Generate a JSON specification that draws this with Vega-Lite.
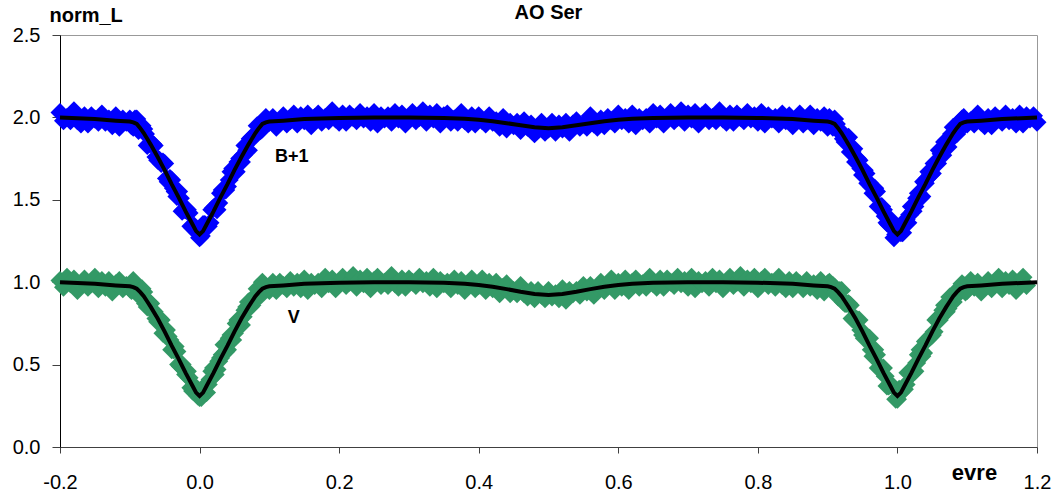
{
"$schema": "https://vega.github.io/schema/vega-lite/v6.json",
"width": 977, "height": 412,
"autosize": {"type": "none"},
"padding": {"left": 60, "top": 35, "right": 27, "bottom": 55},
"background": "white",
"config": {"view": {"stroke": "#999999", "strokeWidth": 1}, "font": "Liberation Sans"},
"title": {"text": "AO Ser", "fontSize": 20, "fontWeight": "bold", "font": "Liberation Sans", "anchor": "middle", "color": "black", "offset": 8, "dy": 26},
"datasets": {
"obs": [
{"p":-0.2,"V":1.01,"B":2.03},{"p":-0.195,"V":0.97,"B":1.98},{"p":-0.19,"V":1.03,"B":2.00},{"p":-0.185,"V":0.99,"B":1.98},{"p":-0.18,"V":1.02,"B":2.04},
{"p":-0.175,"V":0.95,"B":1.98},{"p":-0.17,"V":0.99,"B":1.96},{"p":-0.165,"V":1.02,"B":2.01},{"p":-0.16,"V":0.97,"B":1.96},{"p":-0.155,"V":0.99,"B":2.01},
{"p":-0.15,"V":1.03,"B":1.99},{"p":-0.145,"V":0.96,"B":1.97},{"p":-0.14,"V":1.01,"B":2.02},{"p":-0.135,"V":0.97,"B":1.97},{"p":-0.13,"V":1.01,"B":1.99},
{"p":-0.125,"V":0.94,"B":1.95},{"p":-0.12,"V":0.99,"B":2.01},{"p":-0.115,"V":1.01,"B":1.94},{"p":-0.11,"V":0.96,"B":1.99},{"p":-0.105,"V":0.98,"B":1.97},
{"p":-0.1,"V":0.96,"B":1.99},{"p":-0.095,"V":1.01,"B":1.94},{"p":-0.09,"V":0.95,"B":1.99},{"p":-0.085,"V":0.91,"B":1.93},{"p":-0.08,"V":0.94,"B":1.93},
{"p":-0.075,"V":0.85,"B":1.83},{"p":-0.07,"V":0.87,"B":1.84},{"p":-0.065,"V":0.82,"B":1.83},{"p":-0.06,"V":0.76,"B":1.74},{"p":-0.055,"V":0.77,"B":1.72},
{"p":-0.05,"V":0.69,"B":1.72},{"p":-0.045,"V":0.67,"B":1.61},{"p":-0.04,"V":0.59,"B":1.62},{"p":-0.035,"V":0.61,"B":1.55},{"p":-0.03,"V":0.50,"B":1.55},
{"p":-0.025,"V":0.50,"B":1.43},{"p":-0.02,"V":0.44,"B":1.44},{"p":-0.015,"V":0.42,"B":1.42},{"p":-0.01,"V":0.34,"B":1.33},{"p":-0.005,"V":0.36,"B":1.31},
{"p":0,"V":0.30,"B":1.27},{"p":0.005,"V":0.35,"B":1.35},{"p":0.01,"V":0.33,"B":1.34},{"p":0.015,"V":0.41,"B":1.36},{"p":0.02,"V":0.48,"B":1.45},
{"p":0.025,"V":0.47,"B":1.44},{"p":0.03,"V":0.54,"B":1.54},{"p":0.035,"V":0.62,"B":1.56},{"p":0.04,"V":0.59,"B":1.58},{"p":0.045,"V":0.68,"B":1.67},
{"p":0.05,"V":0.69,"B":1.67},{"p":0.055,"V":0.77,"B":1.73},{"p":0.06,"V":0.74,"B":1.73},{"p":0.065,"V":0.83,"B":1.83},{"p":0.07,"V":0.88,"B":1.80},
{"p":0.075,"V":0.86,"B":1.88},{"p":0.08,"V":0.92,"B":1.90},{"p":0.085,"V":0.92,"B":1.95},{"p":0.09,"V":1.00,"B":1.93},{"p":0.095,"V":0.96,"B":2.00},
{"p":0.1,"V":0.95,"B":1.97},{"p":0.105,"V":1.00,"B":2.00},{"p":0.11,"V":0.95,"B":1.94},{"p":0.115,"V":1.00,"B":1.98},{"p":0.12,"V":0.98,"B":2.01},
{"p":0.125,"V":0.96,"B":1.96},{"p":0.13,"V":1.01,"B":1.98},{"p":0.135,"V":0.97,"B":2.02},{"p":0.14,"V":1.00,"B":1.96},{"p":0.145,"V":0.96,"B":2.01},
{"p":0.15,"V":1.02,"B":1.98},{"p":0.155,"V":0.95,"B":2.02},{"p":0.16,"V":1.00,"B":1.95},{"p":0.165,"V":0.98,"B":2.00},{"p":0.17,"V":1.00,"B":2.02},
{"p":0.175,"V":0.96,"B":1.97},{"p":0.18,"V":1.03,"B":2.00},{"p":0.185,"V":0.99,"B":1.98},{"p":0.19,"V":1.02,"B":2.04},{"p":0.195,"V":0.96,"B":1.99},
{"p":0.2,"V":1.00,"B":1.97},{"p":0.205,"V":1.03,"B":2.02},{"p":0.21,"V":0.98,"B":1.97},{"p":0.215,"V":1.00,"B":2.02},{"p":0.22,"V":1.04,"B":2.00},
{"p":0.225,"V":0.97,"B":1.98},{"p":0.23,"V":1.02,"B":2.03},{"p":0.235,"V":0.99,"B":1.99},{"p":0.24,"V":1.03,"B":2.01},{"p":0.245,"V":0.96,"B":1.97},
{"p":0.25,"V":1.01,"B":2.03},{"p":0.255,"V":1.03,"B":1.96},{"p":0.26,"V":0.98,"B":2.01},{"p":0.265,"V":1.00,"B":1.99},{"p":0.27,"V":0.98,"B":2.01},
{"p":0.275,"V":1.04,"B":1.97},{"p":0.28,"V":0.99,"B":2.03},{"p":0.285,"V":0.97,"B":1.99},{"p":0.29,"V":1.02,"B":2.02},{"p":0.295,"V":0.97,"B":1.96},
{"p":0.3,"V":1.02,"B":2.00},{"p":0.305,"V":1.00,"B":2.03},{"p":0.31,"V":0.98,"B":1.98},{"p":0.315,"V":1.03,"B":2.00},{"p":0.32,"V":0.99,"B":2.04},
{"p":0.325,"V":1.01,"B":1.97},{"p":0.33,"V":0.97,"B":2.02},{"p":0.335,"V":1.03,"B":1.99},{"p":0.34,"V":0.96,"B":2.03},{"p":0.345,"V":1.01,"B":1.96},
{"p":0.35,"V":0.99,"B":2.01},{"p":0.355,"V":1.00,"B":2.02},{"p":0.36,"V":0.96,"B":1.97},{"p":0.365,"V":1.02,"B":1.99},{"p":0.37,"V":0.98,"B":1.97},
{"p":0.375,"V":1.01,"B":2.03},{"p":0.38,"V":0.95,"B":1.98},{"p":0.385,"V":0.99,"B":1.96},{"p":0.39,"V":1.02,"B":2.01},{"p":0.395,"V":0.96,"B":1.96},
{"p":0.4,"V":0.98,"B":2.01},{"p":0.405,"V":1.02,"B":1.98},{"p":0.41,"V":0.95,"B":1.96},{"p":0.415,"V":1.00,"B":2.01},{"p":0.42,"V":0.96,"B":1.97},
{"p":0.425,"V":1.00,"B":1.98},{"p":0.43,"V":0.93,"B":1.94},{"p":0.435,"V":0.97,"B":2.00},{"p":0.44,"V":0.99,"B":1.93},{"p":0.445,"V":0.93,"B":1.97},
{"p":0.45,"V":0.95,"B":1.95},{"p":0.455,"V":0.93,"B":1.97},{"p":0.46,"V":0.98,"B":1.92},{"p":0.465,"V":0.93,"B":1.98},{"p":0.47,"V":0.91,"B":1.94},
{"p":0.475,"V":0.95,"B":1.96},{"p":0.48,"V":0.90,"B":1.90},{"p":0.485,"V":0.95,"B":1.94},{"p":0.49,"V":0.92,"B":1.97},{"p":0.495,"V":0.90,"B":1.91},
{"p":0.5,"V":0.95,"B":1.93},{"p":0.505,"V":0.91,"B":1.97},{"p":0.51,"V":0.93,"B":1.91},{"p":0.515,"V":0.90,"B":1.96},{"p":0.52,"V":0.96,"B":1.93},
{"p":0.525,"V":0.89,"B":1.97},{"p":0.53,"V":0.95,"B":1.91},{"p":0.535,"V":0.93,"B":1.96},{"p":0.54,"V":0.95,"B":1.98},{"p":0.545,"V":0.92,"B":1.94},
{"p":0.55,"V":0.98,"B":1.96},{"p":0.555,"V":0.94,"B":1.94},{"p":0.56,"V":0.98,"B":2.01},{"p":0.565,"V":0.92,"B":1.96},{"p":0.57,"V":0.97,"B":1.94},
{"p":0.575,"V":1.00,"B":1.99},{"p":0.58,"V":0.95,"B":1.95},{"p":0.585,"V":0.98,"B":2.00},{"p":0.59,"V":1.02,"B":1.98},{"p":0.595,"V":0.95,"B":1.96},
{"p":0.6,"V":1.00,"B":2.02},{"p":0.605,"V":0.97,"B":1.98},{"p":0.61,"V":1.02,"B":2.00},{"p":0.615,"V":0.95,"B":1.96},{"p":0.62,"V":1.00,"B":2.02},
{"p":0.625,"V":1.02,"B":1.95},{"p":0.63,"V":0.97,"B":2.00},{"p":0.635,"V":0.99,"B":1.98},{"p":0.64,"V":0.97,"B":2.00},{"p":0.645,"V":1.03,"B":1.96},
{"p":0.65,"V":0.99,"B":2.03},{"p":0.655,"V":0.97,"B":1.99},{"p":0.66,"V":1.02,"B":2.02},{"p":0.665,"V":0.97,"B":1.96},{"p":0.67,"V":1.02,"B":2.00},
{"p":0.675,"V":1.00,"B":2.03},{"p":0.68,"V":0.98,"B":1.98},{"p":0.685,"V":1.03,"B":2.00},{"p":0.69,"V":0.99,"B":2.04},{"p":0.695,"V":1.01,"B":1.97},
{"p":0.7,"V":0.97,"B":2.02},{"p":0.705,"V":1.03,"B":1.99},{"p":0.71,"V":0.96,"B":2.03},{"p":0.715,"V":1.01,"B":1.96},{"p":0.72,"V":0.99,"B":2.01},
{"p":0.725,"V":1.01,"B":2.03},{"p":0.73,"V":0.97,"B":1.98},{"p":0.735,"V":1.03,"B":2.00},{"p":0.74,"V":0.99,"B":1.98},{"p":0.745,"V":1.02,"B":2.04},
{"p":0.75,"V":0.96,"B":1.99},{"p":0.755,"V":1.00,"B":1.97},{"p":0.76,"V":1.03,"B":2.02},{"p":0.765,"V":0.98,"B":1.97},{"p":0.77,"V":1.00,"B":2.02},
{"p":0.775,"V":1.04,"B":2.00},{"p":0.78,"V":0.97,"B":1.98},{"p":0.785,"V":1.02,"B":2.03},{"p":0.79,"V":0.99,"B":1.99},{"p":0.795,"V":1.03,"B":2.01},
{"p":0.8,"V":0.96,"B":1.97},{"p":0.805,"V":1.01,"B":2.03},{"p":0.81,"V":1.03,"B":1.96},{"p":0.815,"V":0.98,"B":2.01},{"p":0.82,"V":1.00,"B":1.99},
{"p":0.825,"V":0.97,"B":2.00},{"p":0.83,"V":1.03,"B":1.96},{"p":0.835,"V":0.98,"B":2.02},{"p":0.84,"V":0.96,"B":1.98},{"p":0.845,"V":1.01,"B":2.01},
{"p":0.85,"V":0.96,"B":1.95},{"p":0.855,"V":1.01,"B":1.99},{"p":0.86,"V":0.99,"B":2.02},{"p":0.865,"V":0.96,"B":1.96},{"p":0.87,"V":1.01,"B":1.98},
{"p":0.875,"V":0.97,"B":2.02},{"p":0.88,"V":0.99,"B":1.95},{"p":0.885,"V":0.95,"B":2.00},{"p":0.89,"V":1.01,"B":1.97},{"p":0.895,"V":0.94,"B":2.01},
{"p":0.9,"V":0.99,"B":1.94},{"p":0.905,"V":0.96,"B":1.98},{"p":0.91,"V":0.97,"B":1.99},{"p":0.915,"V":0.91,"B":1.92},{"p":0.92,"V":0.95,"B":1.91},
{"p":0.925,"V":0.87,"B":1.85},{"p":0.93,"V":0.87,"B":1.88},{"p":0.935,"V":0.78,"B":1.79},{"p":0.94,"V":0.78,"B":1.73},{"p":0.945,"V":0.77,"B":1.74},
{"p":0.95,"V":0.68,"B":1.65},{"p":0.955,"V":0.66,"B":1.66},{"p":0.96,"V":0.66,"B":1.60},{"p":0.965,"V":0.55,"B":1.54},{"p":0.97,"V":0.56,"B":1.55},
{"p":0.975,"V":0.48,"B":1.46},{"p":0.98,"V":0.48,"B":1.44},{"p":0.985,"V":0.37,"B":1.36},{"p":0.99,"V":0.38,"B":1.38},{"p":0.995,"V":0.36,"B":1.27},
{"p":1.0,"V":0.29,"B":1.30},{"p":1.005,"V":0.33,"B":1.30},{"p":1.01,"V":0.35,"B":1.36},{"p":1.015,"V":0.45,"B":1.36},{"p":1.02,"V":0.44,"B":1.46},
{"p":1.025,"V":0.46,"B":1.46},{"p":1.03,"V":0.56,"B":1.54},{"p":1.035,"V":0.55,"B":1.52},{"p":1.04,"V":0.64,"B":1.60},{"p":1.045,"V":0.66,"B":1.67},
{"p":1.05,"V":0.68,"B":1.66},{"p":1.055,"V":0.77,"B":1.72},{"p":1.06,"V":0.77,"B":1.80},{"p":1.065,"V":0.83,"B":1.77},{"p":1.07,"V":0.82,"B":1.86},
{"p":1.075,"V":0.91,"B":1.86},{"p":1.08,"V":0.88,"B":1.94},{"p":1.085,"V":0.95,"B":1.90},{"p":1.09,"V":0.95,"B":1.97},{"p":1.095,"V":0.98,"B":2.00},
{"p":1.1,"V":0.95,"B":1.96},{"p":1.105,"V":1.01,"B":1.98},{"p":1.11,"V":0.97,"B":1.96},{"p":1.115,"V":1.00,"B":2.02},{"p":1.12,"V":0.94,"B":1.97},
{"p":1.125,"V":0.98,"B":1.95},{"p":1.13,"V":1.01,"B":2.00},{"p":1.135,"V":0.96,"B":1.95},{"p":1.14,"V":0.99,"B":2.01},{"p":1.145,"V":1.03,"B":1.99},
{"p":1.15,"V":0.96,"B":1.97},{"p":1.155,"V":1.01,"B":2.02},{"p":1.16,"V":0.98,"B":1.98},{"p":1.165,"V":1.02,"B":2.00},{"p":1.17,"V":0.95,"B":1.96},
{"p":1.175,"V":1.00,"B":2.02},{"p":1.18,"V":1.03,"B":1.96},{"p":1.185,"V":0.98,"B":2.01},{"p":1.19,"V":null,"B":1.99},{"p":1.195,"V":null,"B":2.01},
{"p":1.2,"V":null,"B":1.97},
{"p":-0.0975,"V":0.95,"B":1.95},{"p":-0.0925,"V":0.99,"B":1.99},{"p":-0.0875,"V":0.94,"B":1.92},{"p":-0.0825,"V":0.96,"B":1.95},{"p":-0.0775,"V":0.87,"B":1.90},
{"p":-0.0725,"V":0.88,"B":1.84},{"p":-0.0675,"V":0.83,"B":1.84},{"p":-0.0625,"V":0.78,"B":1.76},{"p":-0.0575,"V":0.78,"B":1.74},{"p":-0.0525,"V":0.69,"B":1.73},
{"p":-0.0475,"V":0.71,"B":1.63},{"p":-0.0425,"V":0.65,"B":1.63},{"p":-0.0375,"V":0.59,"B":1.57},{"p":-0.0325,"V":0.58,"B":1.52},{"p":-0.0275,"V":0.49,"B":1.51},
{"p":-0.0225,"V":0.47,"B":1.44},{"p":-0.0175,"V":0.46,"B":1.44},{"p":-0.0125,"V":0.36,"B":1.34},{"p":-0.0075,"V":0.36,"B":1.34},{"p":-0.0025,"V":0.31,"B":1.30},
{"p":0.0025,"V":0.30,"B":1.28},{"p":0.0075,"V":0.37,"B":1.35},{"p":0.0125,"V":0.38,"B":1.34},{"p":0.0175,"V":0.46,"B":1.44},{"p":0.0225,"V":0.44,"B":1.46},
{"p":0.0275,"V":0.52,"B":1.48},{"p":0.0325,"V":0.56,"B":1.56},{"p":0.0375,"V":0.58,"B":1.56},{"p":0.0425,"V":0.66,"B":1.62},{"p":0.0475,"V":0.65,"B":1.69},
{"p":0.0525,"V":0.75,"B":1.67},{"p":0.0575,"V":0.77,"B":1.75},{"p":0.0625,"V":0.79,"B":1.77},{"p":0.0675,"V":0.85,"B":1.80},{"p":0.0725,"V":0.85,"B":1.87},
{"p":0.0775,"V":0.90,"B":1.88},{"p":0.0825,"V":0.96,"B":1.95},{"p":0.0875,"V":0.92,"B":1.92},{"p":0.0925,"V":0.98,"B":1.98},{"p":0.0975,"V":0.96,"B":1.97},
{"p":0.9025,"V":1.00,"B":2.00},{"p":0.9075,"V":0.98,"B":1.94},{"p":0.9125,"V":0.94,"B":1.96},{"p":0.9175,"V":0.95,"B":1.92},{"p":0.9225,"V":0.88,"B":1.87},
{"p":0.9275,"V":0.87,"B":1.87},{"p":0.9325,"V":0.86,"B":1.79},{"p":0.9375,"V":0.77,"B":1.81},{"p":0.9425,"V":0.77,"B":1.75},{"p":0.9475,"V":0.71,"B":1.69},
{"p":0.9525,"V":0.66,"B":1.68},{"p":0.9575,"V":0.66,"B":1.60},{"p":0.9625,"V":0.59,"B":1.58},{"p":0.9675,"V":0.59,"B":1.57},{"p":0.9725,"V":0.48,"B":1.46},
{"p":0.9775,"V":0.48,"B":1.46},{"p":0.9825,"V":0.43,"B":1.40},{"p":0.9875,"V":0.37,"B":1.35},{"p":0.9925,"V":0.37,"B":1.35},{"p":0.9975,"V":0.29,"B":1.29},
{"p":1.0025,"V":0.35,"B":1.33},{"p":1.0075,"V":0.36,"B":1.30},{"p":1.0125,"V":0.38,"B":1.38},{"p":1.0175,"V":0.45,"B":1.41},{"p":1.0225,"V":0.45,"B":1.43},
{"p":1.0275,"V":0.51,"B":1.51},{"p":1.0325,"V":0.59,"B":1.51},{"p":1.0375,"V":0.57,"B":1.61},{"p":1.0425,"V":0.65,"B":1.63},{"p":1.0475,"V":0.67,"B":1.65},
{"p":1.0525,"V":0.70,"B":1.72},{"p":1.0575,"V":0.78,"B":1.72},{"p":1.0625,"V":0.79,"B":1.78},{"p":1.0675,"V":0.86,"B":1.85},{"p":1.0725,"V":0.84,"B":1.82},
{"p":1.0775,"V":0.91,"B":1.90},{"p":1.0825,"V":0.93,"B":1.91},{"p":1.0875,"V":0.93,"B":1.93},{"p":1.0925,"V":0.99,"B":1.99},{"p":1.0975,"V":0.94,"B":1.96}
],
"model": [
{"p":-0.2,"mV":1.0,"mB":2.0},{"p":-0.15,"mV":0.99,"mB":1.99},{"p":-0.12,"mV":0.98,"mB":1.98},{"p":-0.1,"mV":0.975,"mB":1.975},
{"p":-0.095,"mV":0.97,"mB":1.97},{"p":-0.09,"mV":0.96,"mB":1.96},{"p":-0.085,"mV":0.94,"mB":1.935},{"p":-0.08,"mV":0.915,"mB":1.905},
{"p":-0.075,"mV":0.883,"mB":1.87},{"p":-0.07,"mV":0.85,"mB":1.835},{"p":-0.06,"mV":0.78,"mB":1.76},{"p":-0.05,"mV":0.70,"mB":1.68},
{"p":-0.04,"mV":0.615,"mB":1.595},{"p":-0.03,"mV":0.535,"mB":1.515},{"p":-0.02,"mV":0.45,"mB":1.43},{"p":-0.01,"mV":0.37,"mB":1.35},
{"p":-0.005,"mV":0.33,"mB":1.31},{"p":0,"mV":0.31,"mB":1.29},{"p":0.005,"mV":0.33,"mB":1.31},{"p":0.01,"mV":0.37,"mB":1.35},
{"p":0.02,"mV":0.45,"mB":1.43},{"p":0.03,"mV":0.535,"mB":1.515},{"p":0.04,"mV":0.615,"mB":1.595},{"p":0.05,"mV":0.70,"mB":1.68},
{"p":0.06,"mV":0.78,"mB":1.76},{"p":0.07,"mV":0.85,"mB":1.835},{"p":0.075,"mV":0.883,"mB":1.87},{"p":0.08,"mV":0.915,"mB":1.905},
{"p":0.085,"mV":0.94,"mB":1.935},{"p":0.09,"mV":0.96,"mB":1.96},{"p":0.095,"mV":0.97,"mB":1.97},{"p":0.1,"mV":0.975,"mB":1.975},
{"p":0.12,"mV":0.98,"mB":1.98},{"p":0.15,"mV":0.99,"mB":1.99},{"p":0.2,"mV":0.997,"mB":1.997},{"p":0.25,"mV":1.0,"mB":2.0},
{"p":0.3,"mV":1.0,"mB":2.0},{"p":0.35,"mV":0.997,"mB":1.997},{"p":0.38,"mV":0.99,"mB":1.992},{"p":0.4,"mV":0.983,"mB":1.986},
{"p":0.42,"mV":0.972,"mB":1.977},{"p":0.44,"mV":0.958,"mB":1.965},{"p":0.46,"mV":0.942,"mB":1.952},{"p":0.48,"mV":0.928,"mB":1.94},
{"p":0.5,"mV":0.922,"mB":1.934},{"p":0.52,"mV":0.928,"mB":1.94},{"p":0.54,"mV":0.942,"mB":1.952},{"p":0.56,"mV":0.958,"mB":1.965},
{"p":0.58,"mV":0.972,"mB":1.977},{"p":0.6,"mV":0.983,"mB":1.986},{"p":0.62,"mV":0.99,"mB":1.992},{"p":0.65,"mV":0.997,"mB":1.997},
{"p":0.7,"mV":1.0,"mB":2.0},{"p":0.75,"mV":1.0,"mB":2.0},{"p":0.8,"mV":0.997,"mB":1.997},{"p":0.85,"mV":0.99,"mB":1.99},
{"p":0.88,"mV":0.98,"mB":1.98},{"p":0.9,"mV":0.975,"mB":1.975},{"p":0.905,"mV":0.97,"mB":1.97},{"p":0.91,"mV":0.96,"mB":1.96},
{"p":0.915,"mV":0.94,"mB":1.935},{"p":0.92,"mV":0.915,"mB":1.905},{"p":0.925,"mV":0.883,"mB":1.87},{"p":0.93,"mV":0.85,"mB":1.835},
{"p":0.94,"mV":0.78,"mB":1.76},{"p":0.95,"mV":0.70,"mB":1.68},{"p":0.96,"mV":0.615,"mB":1.595},{"p":0.97,"mV":0.535,"mB":1.515},
{"p":0.98,"mV":0.45,"mB":1.43},{"p":0.99,"mV":0.37,"mB":1.35},{"p":0.995,"mV":0.33,"mB":1.31},{"p":1.0,"mV":0.31,"mB":1.29},
{"p":1.005,"mV":0.33,"mB":1.31},{"p":1.01,"mV":0.37,"mB":1.35},{"p":1.02,"mV":0.45,"mB":1.43},{"p":1.03,"mV":0.535,"mB":1.515},
{"p":1.04,"mV":0.615,"mB":1.595},{"p":1.05,"mV":0.70,"mB":1.68},{"p":1.06,"mV":0.78,"mB":1.76},{"p":1.07,"mV":0.85,"mB":1.835},
{"p":1.075,"mV":0.883,"mB":1.87},{"p":1.08,"mV":0.915,"mB":1.905},{"p":1.085,"mV":0.94,"mB":1.935},{"p":1.09,"mV":0.96,"mB":1.96},
{"p":1.095,"mV":0.97,"mB":1.97},{"p":1.1,"mV":0.975,"mB":1.975},{"p":1.12,"mV":0.98,"mB":1.98},{"p":1.15,"mV":0.99,"mB":1.99},
{"p":1.2,"mV":1.0,"mB":2.0}
],
"labels": [
{"p":0.132,"y":1.76,"t":"B+1"},
{"p":0.135,"y":0.78,"t":"V"}
]
},
"layer": [
{"data": {"name": "obs"},
 "mark": {"type": "point", "shape": "diamond", "filled": true, "size": 360, "color": "#0000FF", "opacity": 1, "strokeWidth": 0},
 "encoding": {
  "x": {"field": "p", "type": "quantitative", "title": "evre",
        "scale": {"domain": [-0.2, 1.2], "nice": false, "zero": false},
        "axis": {"values": [-0.2, 0, 0.2, 0.4, 0.6, 0.8, 1, 1.2], "labelExpr": "datum.value < 0 ? '-' + format(-datum.value, '.1f') : format(datum.value, '.1f')",
                 "grid": false, "labelFont": "Liberation Sans", "labelFontSize": 20, "labelColor": "black", "labelPadding": 19,
                 "tickSize": 6, "tickColor": "#404040", "domainColor": "#404040", "labelFlush": false,
                 "titleFont": "Liberation Sans", "titleFontSize": 22, "titleFontWeight": "bold", "titleColor": "black",
                 "titleAnchor": null, "titleAlign": "center", "titleBaseline": "alphabetic", "titleX": 914, "titleY": 32}},
  "y": {"field": "B", "type": "quantitative", "title": "norm_L",
        "scale": {"domain": [0, 2.5], "nice": false},
        "axis": {"values": [0, 0.5, 1, 1.5, 2, 2.5], "format": ".1f", "grid": false,
                 "labelFont": "Liberation Sans", "labelFontSize": 20, "labelColor": "black", "labelPadding": 12,
                 "tickSize": 8, "tickColor": "#404040", "domainColor": "black",
                 "titleFont": "Liberation Sans", "titleFontSize": 20, "titleFontWeight": "bold", "titleColor": "black",
                 "titleAngle": 0, "titleAlign": "left", "titleBaseline": "alphabetic", "titleX": -11, "titleY": -14}}
 }},
{"data": {"name": "obs"},
 "mark": {"type": "point", "shape": "diamond", "filled": true, "size": 360, "color": "#339966", "opacity": 1, "strokeWidth": 0},
 "encoding": {
  "x": {"field": "p", "type": "quantitative", "title": "evre"},
  "y": {"field": "V", "type": "quantitative", "title": "norm_L"}
 }},
{"data": {"name": "model"},
 "mark": {"type": "line", "color": "black", "strokeWidth": 4},
 "encoding": {
  "x": {"field": "p", "type": "quantitative", "title": "evre"},
  "y": {"field": "mB", "type": "quantitative", "title": "norm_L"}
 }},
{"data": {"name": "model"},
 "mark": {"type": "line", "color": "black", "strokeWidth": 4},
 "encoding": {
  "x": {"field": "p", "type": "quantitative", "title": "evre"},
  "y": {"field": "mV", "type": "quantitative", "title": "norm_L"}
 }},
{"data": {"name": "labels"},
 "mark": {"type": "text", "font": "Liberation Sans", "fontSize": 18, "fontWeight": "bold", "color": "black", "align": "center", "baseline": "middle"},
 "encoding": {
  "x": {"field": "p", "type": "quantitative", "title": "evre"},
  "y": {"field": "y", "type": "quantitative", "title": "norm_L"},
  "text": {"field": "t"}
 }}
]
}
